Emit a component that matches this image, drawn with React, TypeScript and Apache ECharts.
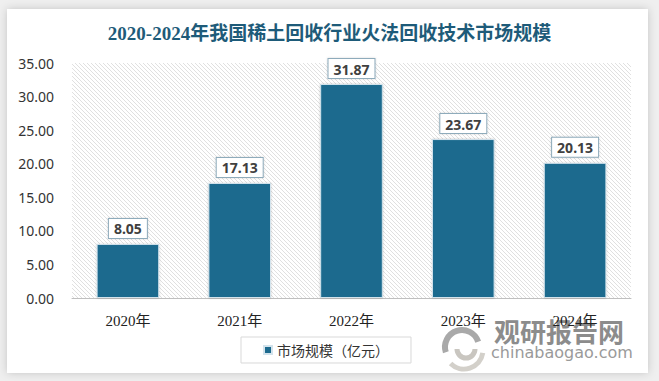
import React, { useEffect, useRef } from "react";
import * as echarts from "echarts";

const title = "2020-2024年我国稀土回收行业火法回收技术市场规模";
const categories = ["2020年", "2021年", "2022年", "2023年", "2024年"];
const seriesName = "市场规模（亿元）";
const values = [8.05, 17.13, 31.87, 23.67, 20.13];
const yTicks = { min: 0, max: 35, interval: 5 };

function makeHatch(): string {
  const c = document.createElement("canvas");
  const s = 4;
  c.width = s;
  c.height = s;
  const ctx = c.getContext("2d")!;
  ctx.fillStyle = "#ffffff";
  ctx.fillRect(0, 0, s, s);
  ctx.strokeStyle = "#e0e0e0";
  ctx.lineWidth = 1;
  ctx.beginPath();
  ctx.moveTo(-1, -1);
  ctx.lineTo(s + 1, s + 1);
  ctx.moveTo(-1, s - 1);
  ctx.lineTo(1, s + 1);
  ctx.moveTo(s - 1, -1);
  ctx.lineTo(s + 1, 1);
  ctx.stroke();
  return c.toDataURL();
}

export default function App() {
  const ref = useRef<HTMLDivElement>(null);
  useEffect(() => {
    if (!ref.current) return;
    const chart = echarts.init(ref.current, null, { renderer: "svg" });
    const hatch = makeHatch();
    chart.setOption({
      animation: false,
      backgroundColor: "#efefef",
      title: {
        text: title,
        left: "center",
        top: 19,
        textStyle: {
          fontFamily: "Liberation Serif, Noto Sans CJK SC",
          fontSize: 19,
          fontWeight: "bold",
          color: "#1e5b79",
        },
      },
      graphic: [
        {
          type: "rect",
          z: -10,
          silent: true,
          shape: { x: 7, y: 9, width: 641, height: 364 },
          style: {
            fill: "#ffffff",
            shadowBlur: 8,
            shadowColor: "rgba(0,0,0,0.18)",
          },
        },
        {
          type: "arc",
          shape: { cx: 462, cy: 347, r: 17, startAngle: Math.PI * 0.9, endAngle: Math.PI * 1.9 },
          style: { stroke: "#a9a9a9", lineWidth: 6, fill: "none" },
        },
        {
          type: "arc",
          shape: { cx: 466, cy: 349, r: 9, startAngle: Math.PI * 0.0, endAngle: Math.PI * 1.0 },
          style: { stroke: "#c9c6c0", lineWidth: 5, fill: "none" },
        },
        {
          type: "arc",
          shape: { cx: 464, cy: 350, r: 19, startAngle: Math.PI * 0.05, endAngle: Math.PI * 0.75 },
          style: { stroke: "#d3d0ca", lineWidth: 5, fill: "none" },
        },
        {
          type: "text",
          x: 494,
          y: 317,
          style: {
            text: "观研报告网",
            fontFamily: "Noto Sans CJK SC",
            fontWeight: "bold",
            fontSize: 26,
            fill: "#8c8c8c",
          },
        },
        {
          type: "text",
          x: 491,
          y: 344,
          style: {
            text: "chinabaogao.com",
            fontFamily: "DejaVu Sans",
            fontSize: 16,
            fill: "#9a9a9a",
          },
        },
      ],
      legend: {
        data: [seriesName],
        left: 241,
        top: 337,
        width: 172,
        padding: [6, 22, 6, 22],
        borderColor: "#d9d9d9",
        borderWidth: 1,
        itemWidth: 8,
        itemHeight: 8,
        icon: "rect",
        textStyle: {
          fontFamily: "Noto Sans CJK SC",
          fontSize: 14,
          color: "#333333",
        },
      },
      grid: {
        left: 72,
        right: 28,
        top: 63,
        bottom: 83,
        show: true,
        borderWidth: 0,
        backgroundColor: {
          image: hatch,
          repeat: "repeat",
          imageWidth: 4,
          imageHeight: 4,
        } as any,
      },
      xAxis: {
        type: "category",
        data: categories,
        axisLine: { lineStyle: { color: "#bfbfbf", width: 1 } },
        axisTick: { show: false },
        axisLabel: {
          margin: 15,
          fontFamily: "Liberation Serif, Noto Sans CJK SC",
          fontSize: 15,
          color: "#222222",
        },
      },
      yAxis: {
        type: "value",
        min: yTicks.min,
        max: yTicks.max,
        interval: yTicks.interval,
        splitLine: { show: false },
        axisLine: { show: false },
        axisTick: { show: false },
        axisLabel: {
          margin: 18,
          formatter: (v: number) => v.toFixed(2),
          fontFamily: "Noto Sans",
          fontSize: 14,
          color: "#333333",
        },
      },
      series: [
        {
          name: seriesName,
          type: "bar",
          data: values,
          barCategoryGap: "44%",
          itemStyle: {
            color: "#1c6a8e",
            borderColor: "#d3e3ec",
            borderWidth: 1,
            shadowBlur: 2,
            shadowColor: "rgba(0,0,0,0.2)",
          },
          label: {
            show: true,
            position: "top",
            distance: 6,
            formatter: (p: any) => p.value.toFixed(2),
            fontFamily: "Noto Sans",
            fontWeight: "bold",
            fontSize: 14,
            color: "#404040",
            backgroundColor: "#ffffff",
            borderColor: "#8eabbb",
            borderWidth: 1,
            padding: [3, 5, 2, 5],
            shadowBlur: 2,
            shadowColor: "rgba(0,0,0,0.15)",
          },
        },
      ],
    });
    return () => chart.dispose();
  }, []);
  return (
    <div
      ref={ref}
      style={{ position: "fixed", left: 0, top: 0, width: 659, height: 381 }}
    />
  );
}
